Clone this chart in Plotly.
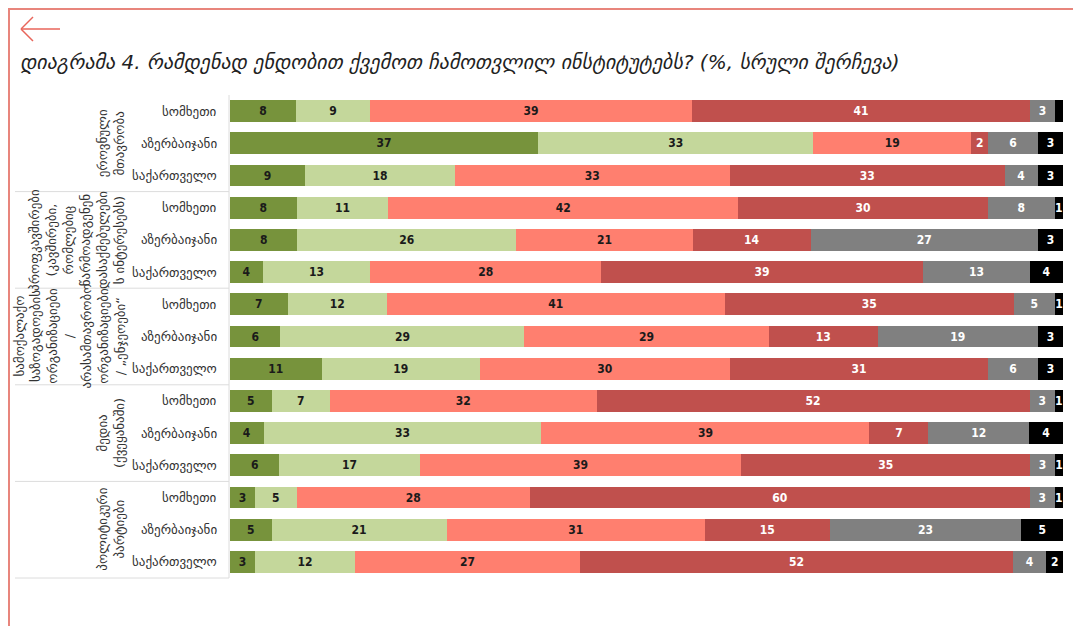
import plotly.graph_objects as go

# ---------------- data ----------------
countries = ["სომხეთი", "აზერბაიჯანი", "საქართველო"]
institutions = [
    "ეროვნული<br>მთავრობა",
    "პროფკავშირები<br>(კავშირები,<br>რომლებიც<br>წარმოადგენენ<br>დასაქმებულები<br>ს ინტერესებს)",
    "სამოქალაქო<br>საზოგადოების<br>ორგანიზაციები<br>/<br>არასამთავრობო<br>ორგანიზაციები<br>/ „ენჯეოები“",
    "მედია<br>(ქვეყანაში)",
    "პოლიტიკური<br>პარტიები",
]
series_names = ["სრულიად ვენდობი", "ვენდობი", "არ ვენდობი", "სრულიად არ ვენდობი", "არ ვიცი", "უარი პასუხზე"]

fully_trust       = [8, 37, 9,   8, 8, 4,    7, 6, 11,   5, 4, 6,    3, 5, 3]
somewhat_trust    = [9, 33, 18,  11, 26, 13, 12, 29, 19, 7, 33, 17,  5, 21, 12]
somewhat_distrust = [39, 19, 33, 42, 21, 28, 41, 29, 30, 32, 39, 39, 28, 31, 27]
fully_distrust    = [41, 2, 33,  30, 14, 39, 35, 13, 31, 52, 7, 35,  60, 15, 52]
dont_know         = [3, 6, 4,    8, 27, 13,  5, 19, 6,   3, 12, 3,   3, 23, 4]
refused           = [1, 3, 3,    1, 3, 4,    1, 3, 3,    1, 4, 1,    1, 5, 2]
hidden_labels = {(5, 0)}  # (series index, row index) with no printed label

series = [fully_trust, somewhat_trust, somewhat_distrust, fully_distrust, dont_know, refused]
colors = ["#77933C", "#C4D79B", "#FF7F6F", "#C0504D", "#808080", "#000000"]
text_colors = ["#1a1a1a", "#1a1a1a", "#1a1a1a", "#ffffff", "#ffffff", "#ffffff"]

# ---------------- layout geometry ----------------
# page coordinates (window pixels); the figure itself sits at an 8px body offset
OFF = 8
W, H = 1081 - OFF, 626 - OFF
L, R, T, B = 230, 1063, 95, 578          # plot area in window pixels
Lf, Rf, Tf, Bf = L - OFF, R - OFF, T - OFF, B - OFF
def px(x):
    return (x - OFF - Lf) / (Rf - Lf)
def py(y):
    return (Bf - (y - OFF)) / (Bf - Tf)

n_rows = len(institutions) * len(countries)
rows = list(range(n_rows))

fig = go.Figure()
bar_font = "DejaVu Sans Condensed, Liberation Sans Narrow, Arial Narrow, sans-serif"
for si, (vals, col, tcol, name) in enumerate(zip(series, colors, text_colors, series_names)):
    labels = ["" if (si, ri) in hidden_labels else str(v) for ri, v in enumerate(vals)]
    fig.add_trace(go.Bar(
        x=vals, y=rows, orientation="h", name=name,
        marker=dict(color=col, line=dict(width=0)),
        width=0.68,
        text=labels, textposition="inside", insidetextanchor="middle",
        constraintext="none",
        textfont=dict(color=tcol, size=12, family=bar_font, weight="bold"),
        hovertemplate="%{x}<extra>" + name + "</extra>",
    ))

fig.update_layout(
    width=W, height=H, barmode="stack", barnorm="percent",
    margin=dict(l=Lf, r=W - Rf, t=Tf, b=H - Bf),
    paper_bgcolor="white", plot_bgcolor="white", showlegend=False,
    xaxis=dict(range=[0, 100], visible=False, fixedrange=True),
    yaxis=dict(range=[n_rows - 0.5, -0.5], visible=False, fixedrange=True),
    font=dict(family="DejaVu Sans, Noto Sans, sans-serif", color="#333"),
)

shapes = []
annotations = []
line_col = "#dcdcdc"

# country labels
for ri in rows:
    annotations.append(dict(
        text=countries[ri % 3], xref="paper", yref="y", x=px(219), y=ri,
        xanchor="right", yanchor="middle", showarrow=False,
        font=dict(size=13, color="#333", family="DejaVu Sans, sans-serif"),
    ))

# group labels and separators
row_h = (B - T) / n_rows
for gi, lab in enumerate(institutions):
    center = 3 * gi + 1
    annotations.append(dict(
        text=lab, xref="paper", yref="y", x=px(129), y=center,
        xanchor="right", yanchor="middle", textangle=-90, showarrow=False,
        align="center",
        font=dict(size=13, color="#333", family="DejaVu Sans, sans-serif"),
    ))
    if gi > 0:
        yb = T + 3 * gi * row_h
        shapes.append(dict(type="line", xref="paper", yref="paper",
                           x0=px(15), x1=px(229), y0=py(yb), y1=py(yb),
                           line=dict(color=line_col, width=1)))
shapes.append(dict(type="line", xref="paper", yref="paper",
                   x0=px(15), x1=px(229), y0=py(B), y1=py(B),
                   line=dict(color=line_col, width=1)))
shapes.append(dict(type="line", xref="paper", yref="paper",
                   x0=px(229), x1=px(229), y0=py(T), y1=py(B),
                   line=dict(color=line_col, width=1)))

# page frame (drawn at the figure edges)
frame_col = "#E8857C"
shapes.append(dict(type="line", xref="paper", yref="paper",
                   x0=px(OFF), x1=px(1081), y0=py(OFF + 1), y1=py(OFF + 1), line=dict(color=frame_col, width=2)))
shapes.append(dict(type="line", xref="paper", yref="paper",
                   x0=px(OFF + 1), x1=px(OFF + 1), y0=py(OFF), y1=py(626), line=dict(color=frame_col, width=2)))
shapes.append(dict(type="line", xref="paper", yref="paper",
                   x0=px(1078), x1=px(1078), y0=py(OFF), y1=py(626), line=dict(color=frame_col, width=2)))

# back arrow
arrow_col = "#E8655A"
shapes.append(dict(type="line", xref="paper", yref="paper",
                   x0=px(21), x1=px(60), y0=py(29), y1=py(29), line=dict(color=arrow_col, width=1.5)))
shapes.append(dict(type="line", xref="paper", yref="paper",
                   x0=px(21), x1=px(33), y0=py(29), y1=py(17), line=dict(color=arrow_col, width=1.5)))
shapes.append(dict(type="line", xref="paper", yref="paper",
                   x0=px(21), x1=px(33), y0=py(29), y1=py(41), line=dict(color=arrow_col, width=1.5)))

# title
annotations.append(dict(
    text="<i>დიაგრამა 4. რამდენად ენდობით ქვემოთ ჩამოთვლილ ინსტიტუტებს? (%, სრული შერჩევა)</i>",
    xref="paper", yref="paper", x=px(18), y=py(62), xanchor="left", yanchor="middle",
    showarrow=False, font=dict(size=20, color="#222", family="DejaVu Sans, sans-serif"),
))

fig.update_layout(shapes=shapes, annotations=annotations)
fig.write_html("out.html")
